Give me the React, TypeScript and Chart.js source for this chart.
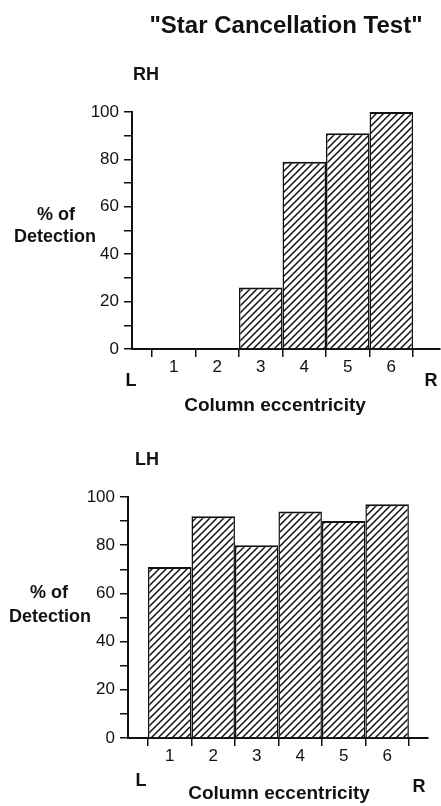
import React, { useEffect, useRef } from 'react';
import { Chart, registerables } from 'chart.js';

Chart.register(...registerables);

// ---- data ----
const columns = [1, 2, 3, 4, 5, 6];
const columnLabels = ['1', '2', '3', '4', '5', '6'];
const rhDetection = [0, 0, 26, 79, 91, 100];
const lhDetection = [71, 92, 80, 94, 90, 97];
const yTickLabels = [0, 20, 40, 60, 80, 100];
const chartTitle = '"Star Cancellation Test"';
const xAxisTitle = 'Column eccentricity';
const yAxisTitle = ['% of', 'Detection'];
const panelNames = ['RH', 'LH'];
const sideLabels = ['L', 'R'];

const FAMILY = '"Liberation Sans", Arial, Helvetica, sans-serif';
const INK = '#111';

type TextItem = { text: string; x: number; y: number; size: number; bold: boolean; align: CanvasTextAlign };

function makeHatch(ctx: CanvasRenderingContext2D) {
  const s = 7;
  const c = document.createElement('canvas');
  c.width = s;
  c.height = s;
  const g = c.getContext('2d')!;
  g.fillStyle = '#fff';
  g.fillRect(0, 0, s, s);
  g.strokeStyle = INK;
  g.lineWidth = 1.5;
  g.beginPath();
  g.moveTo(-1, s + 1);
  g.lineTo(s + 1, -1);
  g.moveTo(-1, 1);
  g.lineTo(1, -1);
  g.moveTo(s - 1, s + 1);
  g.lineTo(s + 1, s - 1);
  g.stroke();
  return ctx.createPattern(c, 'repeat');
}

const textPlugin = {
  id: 'texts',
  afterDraw(chart: any) {
    const items: TextItem[] = chart.options.plugins.texts?.items || [];
    const ctx = chart.ctx;
    ctx.save();
    ctx.fillStyle = INK;
    ctx.textBaseline = 'middle';
    for (const t of items) {
      ctx.font = `${t.bold ? 'bold ' : ''}${t.size}px ${FAMILY}`;
      ctx.textAlign = t.align;
      ctx.fillText(t.text, t.x, t.y);
    }
    ctx.restore();
  },
};

function xTickValues() {
  const v: number[] = [];
  columns.forEach((c) => {
    v.push(c - 0.5, c);
  });
  v.push(columns[columns.length - 1] + 0.5);
  return v;
}

function buildConfig(
  ctx: CanvasRenderingContext2D,
  values: number[],
  o: { xMax: number; axisWidth: number; axisHeight: number; padTop: number; padRight: number; texts: TextItem[] }
): any {
  const tickFont = { family: FAMILY, size: 17 };
  return {
    type: 'bar',
    data: {
      datasets: [
        {
          data: columns.map((c, i) => ({ x: c, y: values[i] })),
          backgroundColor: makeHatch(ctx),
          borderColor: INK,
          borderWidth: { top: 2, left: 1.5, right: 1.5, bottom: 0 },
          borderSkipped: false,
          // ticks are placed every half column, so a full column is two tick gaps
          barPercentage: 2,
          categoryPercentage: 1,
        },
      ],
    },
    options: {
      responsive: false,
      animation: false,
      events: [],
      layout: { padding: { top: o.padTop, right: o.padRight, left: 0, bottom: 0 } },
      plugins: {
        legend: { display: false },
        title: { display: false },
        tooltip: { enabled: false },
        texts: { items: o.texts },
      },
      scales: {
        x: {
          type: 'linear',
          min: 0.04,
          max: o.xMax,
          offset: false,
          afterBuildTicks: (s: any) => {
            s.ticks = xTickValues().map((value) => ({ value }));
          },
          afterFit: (s: any) => {
            s.height = o.axisHeight;
          },
          ticks: {
            autoSkip: false,
            maxRotation: 0,
            padding: 0,
            color: INK,
            font: tickFont,
            callback: (v: number) => (Number.isInteger(v) ? columnLabels[v - 1] ?? '' : ''),
          },
          grid: {
            offset: false,
            drawOnChartArea: false,
            drawTicks: true,
            tickLength: 8,
            lineWidth: 1.5,
            color: (c: any) => (c.tick && !Number.isInteger(c.tick.value) ? INK : 'rgba(0,0,0,0)'),
          },
          border: { display: true, color: INK, width: 2 },
        },
        y: {
          type: 'linear',
          min: 0,
          max: 100,
          afterFit: (s: any) => {
            s.width = o.axisWidth;
          },
          ticks: {
            stepSize: 10,
            padding: 5,
            color: INK,
            font: tickFont,
            callback: (v: number) => (yTickLabels.includes(v) ? String(v) : ''),
          },
          grid: {
            drawOnChartArea: false,
            drawTicks: true,
            tickLength: 8,
            lineWidth: 1.5,
            color: INK,
          },
          border: { display: true, color: INK, width: 2 },
        },
      },
    },
    plugins: [textPlugin],
  };
}

export default function App() {
  const topRef = useRef<HTMLCanvasElement>(null);
  const botRef = useRef<HTMLCanvasElement>(null);

  useEffect(() => {
    const tctx = topRef.current!.getContext('2d')!;
    const bctx = botRef.current!.getContext('2d')!;
    const top = new Chart(
      tctx,
      buildConfig(tctx, rhDetection, {
        xMax: 7.12,
        axisWidth: 132,
        axisHeight: 71,
        padTop: 112,
        padRight: 1,
        texts: [
          { text: chartTitle, x: 286, y: 26, size: 24, bold: true, align: 'center' },
          { text: panelNames[0], x: 133, y: 75, size: 18, bold: true, align: 'left' },
          { text: yAxisTitle[0], x: 56, y: 215, size: 18, bold: true, align: 'center' },
          { text: yAxisTitle[1], x: 55, y: 237, size: 18, bold: true, align: 'center' },
          { text: sideLabels[0], x: 131, y: 381, size: 18, bold: true, align: 'center' },
          { text: sideLabels[1], x: 431, y: 381, size: 18, bold: true, align: 'center' },
          { text: xAxisTitle, x: 275, y: 406, size: 19, bold: true, align: 'center' },
        ],
      })
    );
    const bot = new Chart(
      bctx,
      buildConfig(bctx, lhDetection, {
        xMax: 6.94,
        axisWidth: 128,
        axisHeight: 68,
        padTop: 77,
        padRight: 13,
        texts: [
          { text: panelNames[1], x: 135, y: 40, size: 18, bold: true, align: 'left' },
          { text: yAxisTitle[0], x: 49, y: 173, size: 18, bold: true, align: 'center' },
          { text: yAxisTitle[1], x: 50, y: 197, size: 18, bold: true, align: 'center' },
          { text: sideLabels[0], x: 141, y: 361, size: 18, bold: true, align: 'center' },
          { text: sideLabels[1], x: 419, y: 367, size: 18, bold: true, align: 'center' },
          { text: xAxisTitle, x: 279, y: 374, size: 19, bold: true, align: 'center' },
        ],
      })
    );
    return () => {
      top.destroy();
      bot.destroy();
    };
  }, []);

  return (
    <div style={{ position: 'absolute', left: 0, top: 0, width: 441, height: 806, background: '#fff' }}>
      <canvas ref={topRef} width={441} height={420} style={{ display: 'block', width: 441, height: 420 }} />
      <canvas ref={botRef} width={441} height={386} style={{ display: 'block', width: 441, height: 386 }} />
    </div>
  );
}
